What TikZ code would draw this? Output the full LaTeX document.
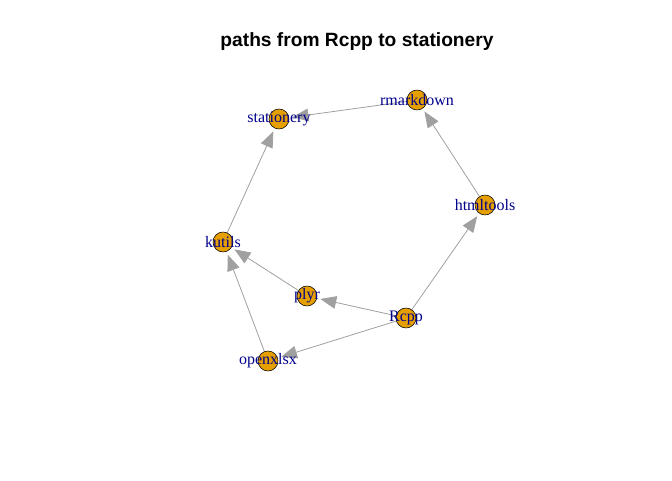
\documentclass[tikz,border=0pt]{standalone}
\usepackage{fontspec}
\setmainfont{Liberation Serif}
\newfontfamily\titlefont{Liberation Sans}
\usetikzlibrary{arrows.meta}
\definecolor{vorange}{RGB}{230,159,0}
\definecolor{vlabel}{RGB}{0,0,139}
\definecolor{vedge}{RGB}{160,160,160}
\pgfdeclarelayer{bg}
\pgfsetlayers{bg,main}

\begin{document}
\begin{tikzpicture}[x=0.75pt,y=-0.75pt,
  pkg/.style={circle,draw=black,fill=vorange,minimum size=15pt,inner sep=0pt,
    label={[text=vlabel,font=\fontsize{12}{12}\selectfont]center:#1}},
  dep/.style={draw=vedge,line width=0.6pt,shorten >=2.5pt,
    -{Triangle[length=12pt,width=9.5pt,fill=vedge]}}]
\useasboundingbox (0,0) rectangle (672,480);
\node[font=\titlefont\bfseries\fontsize{14.4}{14.4}\selectfont] (title) at (357,42) {paths from Rcpp to stationery};

\node[pkg=stationery] (stationery) at (279,119) {};
\node[pkg=rmarkdown] (rmarkdown) at (417,100) {};
\node[pkg=htmltools] (htmltools) at (485,205) {};
\node[pkg=kutils] (kutils) at (223,242) {};
\node[pkg=plyr] (plyr) at (307,296) {};
\node[pkg=Rcpp] (Rcpp) at (406,318) {};
\node[pkg=openxlsx] (openxlsx) at (268,361) {};

\begin{pgfonlayer}{bg}
\draw[dep] (Rcpp) -- (htmltools);
\draw[dep] (htmltools) -- (rmarkdown);
\draw[dep] (rmarkdown) -- (stationery);
\draw[dep] (Rcpp) -- (plyr);
\draw[dep] (Rcpp) -- (openxlsx);
\draw[dep] (plyr) -- (kutils);
\draw[dep] (openxlsx) -- (kutils);
\draw[dep] (kutils) -- (stationery);
\end{pgfonlayer}
\end{tikzpicture}
\end{document}
